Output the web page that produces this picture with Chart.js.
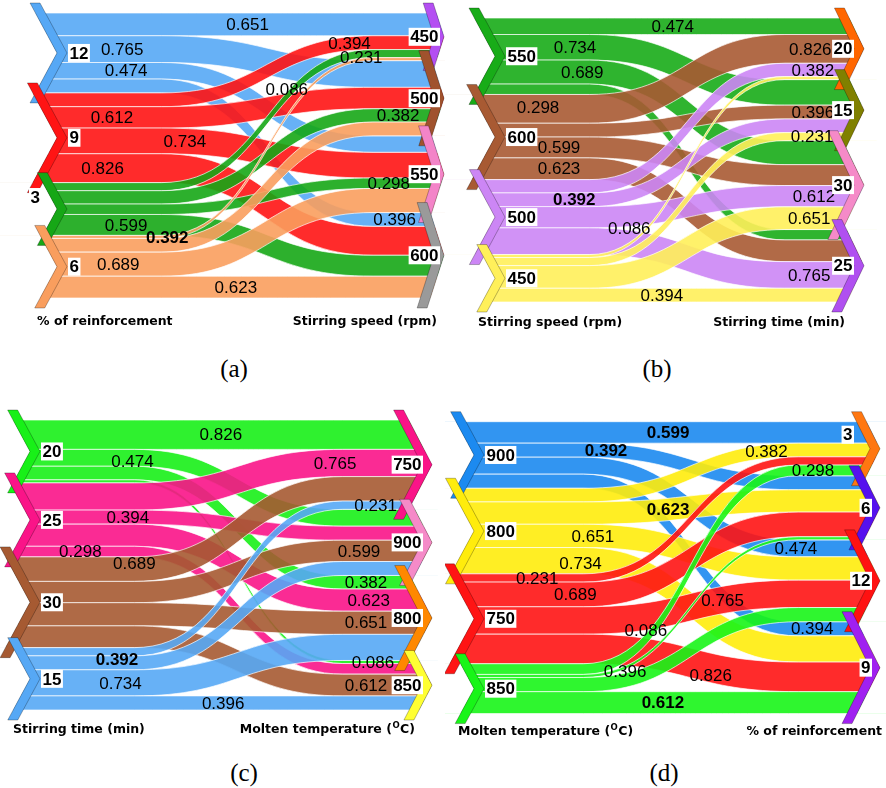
<!DOCTYPE html>
<html>
<head>
<meta charset="utf-8">
<script src="https://cdn.jsdelivr.net/npm/chart.js@4.4.1/dist/chart.umd.min.js"></script>
<style>
  body { margin: 0; background: #fff; }
  #wrap { position: relative; width: 886px; height: 788px; overflow: hidden; }
  canvas { position: absolute; }
  .cap {
    position: absolute;
    font-family: "Liberation Serif", "Times New Roman", serif;
    font-size: 25px;
    line-height: 30px;
    color: #000;
    transform: translateX(-50%);
  }
</style>
</head>
<body>
<div id="wrap">
  <canvas id="pa" width="445" height="340" style="left:0;top:0"></canvas>
  <canvas id="pb" width="441" height="340" style="left:445px;top:0"></canvas>
  <canvas id="pc" width="443" height="345" style="left:0;top:400px"></canvas>
  <canvas id="pd" width="441" height="345" style="left:445px;top:400px"></canvas>
  <div class="cap" style="left:234px;top:354px">(a)</div>
  <div class="cap" style="left:657px;top:354px">(b)</div>
  <div class="cap" style="left:244px;top:758px">(c)</div>
  <div class="cap" style="left:664px;top:758px">(d)</div>
</div>
<script>
// L16 runs: factor levels and response value of each run
const reinforcement = [12, 12, 12, 12, 9, 9, 9, 9, 3, 3, 3, 3, 6, 6, 6, 6];
const stirSpeed = [450, 500, 550, 600, 450, 500, 550, 600, 450, 500, 550, 600, 450, 500, 550, 600];
const stirTime = [30, 25, 20, 15, 25, 30, 15, 20, 15, 20, 25, 30, 20, 15, 30, 25];
const moltenTemp = [800, 750, 900, 850, 900, 850, 800, 750, 750, 800, 850, 900, 850, 900, 750, 800];
const response = [0.651, 0.765, 0.474, 0.396, 0.394, 0.612, 0.734, 0.826, 0.231, 0.382, 0.298, 0.599, 0.086, 0.392, 0.689, 0.623];

// node order, top to bottom, in each panel
const reinfOrderA = [12, 9, 3, 6];
const speedOrderA = [450, 500, 550, 600];
const speedOrderB = [550, 600, 500, 450];
const timeOrderB = [20, 15, 30, 25];
const timeOrderC = [20, 25, 30, 15];
const tempOrderC = [750, 900, 800, 850];
const tempOrderD = [900, 800, 750, 850];
const reinfOrderD = [3, 6, 12, 9];

const panels = [
  { id: "pa", from: reinforcement, to: stirSpeed, leftOrder: reinfOrderA, rightOrder: speedOrderA,
    leftTitle: "% of reinforcement", rightTitle: "Stirring speed (rpm)" },
  { id: "pb", from: stirSpeed, to: stirTime, leftOrder: speedOrderB, rightOrder: timeOrderB,
    leftTitle: "Stirring speed (rpm)", rightTitle: "Stirring time (min)" },
  { id: "pc", from: stirTime, to: moltenTemp, leftOrder: timeOrderC, rightOrder: tempOrderC,
    leftTitle: "Stirring time (min)", rightTitle: "Molten temperature (^OC)" },
  { id: "pd", from: moltenTemp, to: reinforcement, leftOrder: tempOrderD, rightOrder: reinfOrderD,
    leftTitle: "Molten temperature (^OC)", rightTitle: "% of reinforcement" },
];

// drawing style per panel (positions in canvas pixels)
const panelStyle = {
  pa: {
    pad: { left: 32, right: 21, top: 13, bottom: 42 },
    leftTip: 67, rightTip: 444, rightRatio: 0.32, rightGap: 4,
    leftColors: ["#56a8f5", "#ff1414", "#16a716", "#f99e5e"],
    rightColors: ["#b44ff2", "#a0522d", "#f384c8", "#9a9a9a"],
    titleY: 322, leftTitleX: 37, rightTitleX: 437,
    labelU: [0.55, 0.23, 0.24, 0.925, 0.81, 0.204, 0.39, 0.18, 0.84, 0.934, 0.91, 0.24, 0.65, 0.345, 0.22, 0.52],
    labelDy: { 8: 3, 12: -27, 13: -8 },
    bold: [13],
    shiftL: { 3: [-39, -12] }, shiftR: {},
  },
  pb: {
    pad: { left: 25, right: 54, top: 18, bottom: 38 },
    leftTip: 60, rightTip: 419, rightRatio: 0.48, rightGap: 10,
    leftColors: ["#18ac18", "#a85a33", "#cc86f5", "#fff05a"],
    rightColors: ["#ff6600", "#808000", "#f58ac8", "#b050f0"],
    titleY: 323, leftTitleX: 33, rightTitleX: 400,
    labelU: [0.937, 0.937, 0.56, 0.947, 0.53, 0.95, 0.29, 0.94, 0.945, 0.947, 0.188, 0.246, 0.44, 0.288, 0.31, 0.246],
    labelDy: { 10: 18, 12: -16 },
    bold: [13],
    shiftL: {}, shiftR: {},
  },
  pc: {
    pad: { left: 7, right: 50, top: 20, bottom: 35 },
    leftTip: 40, rightTip: 432, rightRatio: 0.52, rightGap: 9,
    leftColors: ["#18f018", "#fa1488", "#a65a32", "#56a8f5"],
    rightColors: ["#fa1488", "#f58ac8", "#ff8800", "#ffff33"],
    titleY: 330, leftTitleX: 13, rightTitleX: 415,
    labelU: [0.93, 0.85, 0.325, 0.56, 0.313, 0.93, 0.294, 0.554, 0.955, 0.93, 0.19, 0.912, 0.948, 0.285, 0.33, 0.937],
    labelDy: { 2: 3, 13: -4, 14: -6 },
    bold: [13],
    shiftL: {}, shiftR: {},
  },
  pd: {
    pad: { left: 7, right: 36, top: 21.7, bottom: 31.4 },
    leftTip: 39, rightTip: 435, rightRatio: 0.5, rightGap: 8,
    leftColors: ["#1c8af0", "#ffec0c", "#ff1414", "#18f518"],
    rightColors: ["#ff7711", "#5511ee", "#ff1111", "#a020f0"],
    titleY: 332, leftTitleX: 13, rightTitleX: 437,
    labelU: [0.354, 0.68, 0.864, 0.435, 0.905, 0.53, 0.323, 0.65, 0.214, 0.79, 0.907, 0.543, 0.487, 0.387, 0.31, 0.543],
    labelDy: { 3: -9, 6: 3, 7: 7, 12: -25 },
    bold: [5, 11, 13, 15],
    shiftL: {}, shiftR: { 3: [-18, -14] },
  },
};

const BEND_START = 0.33;
const BEND_END = 0.87;
const EXT = 10;
const TH = 10;
const LEFT_RATIO = 0.54;

function layoutPanel(p) {
  const idx = response.map((_, i) => i);
  const leftOff = {}, rightOff = {};
  const leftNodes = [], rightNodes = [], order = [];
  let acc = 0;
  p.leftOrder.forEach((lv) => {
    const start = acc;
    idx.filter((i) => p.from[i] === lv)
      .sort((a, b) => p.rightOrder.indexOf(p.to[a]) - p.rightOrder.indexOf(p.to[b]))
      .forEach((i) => { leftOff[i] = acc; acc += response[i]; order.push(i); });
    leftNodes.push({ level: lv, start, end: acc });
  });
  acc = 0;
  p.rightOrder.forEach((lv) => {
    const start = acc;
    idx.filter((i) => p.to[i] === lv)
      .sort((a, b) => p.leftOrder.indexOf(p.from[a]) - p.leftOrder.indexOf(p.from[b]))
      .forEach((i) => { rightOff[i] = acc; acc += response[i]; });
    rightNodes.push({ level: lv, start, end: acc });
  });
  return { leftOff, rightOff, leftNodes, rightNodes, order };
}

// y of the band centre line at pixel x
function bendY(x, bx0, bx1, c0, c1) {
  if (x <= bx0) return c0;
  if (x >= bx1) return c1;
  const loc = (x - bx0) / (bx1 - bx0);
  let lo = 0, hi = 1;
  for (let k = 0; k < 30; k++) {
    const s = (lo + hi) / 2;
    if (1.5 * s * (1 - s) + s * s * s < loc) lo = s; else hi = s;
  }
  const s = (lo + hi) / 2;
  return c0 + (c1 - c0) * (3 * s * s - 2 * s * s * s);
}

const TITLE_FONT = "bold 12.5px 'DejaVu Sans', Verdana, sans-serif";
const SUP_FONT = "bold 8.5px 'DejaVu Sans', Verdana, sans-serif";

function drawTitle(ctx, text, x, y, align) {
  ctx.font = TITLE_FONT;
  ctx.textBaseline = "middle";
  ctx.textAlign = "left";
  ctx.fillStyle = "#000";
  const parts = text.split("^");
  let w = ctx.measureText(parts[0]).width;
  let supW = 0, rest = "";
  if (parts.length > 1) {
    rest = parts[1].slice(1);
    ctx.font = SUP_FONT;
    supW = ctx.measureText(parts[1][0]).width + 1;
    ctx.font = TITLE_FONT;
    w += supW + ctx.measureText(rest).width;
  }
  let sx = align === "right" ? x - w : x;
  ctx.fillText(parts[0], sx, y);
  if (parts.length > 1) {
    sx += ctx.measureText(parts[0]).width;
    ctx.font = SUP_FONT;
    ctx.fillText(parts[1][0], sx + 0.5, y - 4);
    ctx.font = TITLE_FONT;
    ctx.fillText(rest, sx + supW, y);
  }
}

function nodeBox(ctx, text, x, yMid, anchorRight) {
  ctx.font = "bold 17px 'Liberation Sans', Arial, sans-serif";
  const w = ctx.measureText(text).width + 3;
  const h = 18;
  const bx = anchorRight ? x - w : x;
  ctx.fillStyle = "#fff";
  ctx.fillRect(bx, yMid - h / 2, w, h);
  ctx.fillStyle = "#000";
  ctx.textAlign = "center";
  ctx.textBaseline = "middle";
  ctx.fillText(text, bx + w / 2, yMid + 1);
}

function drawSankey(chart, p, st) {
  const ctx = chart.ctx;
  const xs = chart.scales.x, ys = chart.scales.y;
  const W = chart.width;
  const lay = layoutPanel(p);
  const X0 = xs.getPixelForValue(0), X1 = xs.getPixelForValue(1);
  const bx0 = xs.getPixelForValue(BEND_START), bx1 = xs.getPixelForValue(BEND_END);
  const bxm = (bx0 + bx1) / 2;

  ctx.save();
  // flows
  lay.order.forEach((i) => {
    const col = st.leftColors[p.leftOrder.indexOf(p.from[i])];
    const t0 = ys.getPixelForValue(lay.leftOff[i]);
    const b0 = ys.getPixelForValue(lay.leftOff[i] + response[i]);
    const t1 = ys.getPixelForValue(lay.rightOff[i]);
    const b1 = ys.getPixelForValue(lay.rightOff[i] + response[i]);
    ctx.beginPath();
    ctx.moveTo(X0 - 45, t0);
    ctx.lineTo(bx0, t0);
    ctx.bezierCurveTo(bxm, t0, bxm, t1, bx1, t1);
    ctx.lineTo(X1 + 45, t1);
    ctx.lineTo(X1 + 45, b1);
    ctx.lineTo(bx1, b1);
    ctx.bezierCurveTo(bxm, b1, bxm, b0, bx0, b0);
    ctx.lineTo(X0 - 45, b0);
    ctx.closePath();
    ctx.globalAlpha = 0.9;
    ctx.fillStyle = col;
    ctx.fill();
    ctx.globalAlpha = 0.75;
    ctx.strokeStyle = "#fff";
    ctx.lineWidth = 0.9;
    ctx.stroke();
  });
  ctx.globalAlpha = 1;

  const shape = (n, tip, ratio) => {
    const yT = ys.getPixelForValue(n.start) - EXT;
    const yB = ys.getPixelForValue(n.end) + EXT;
    const mid = (yT + yB) / 2;
    const d = ratio * (yB - yT) / 2;
    return { yT, yB, mid, d, ox: tip - TH - d };
  };
  const lShapes = lay.leftNodes.map((n) => shape(n, st.leftTip, LEFT_RATIO));
  const rShapes = lay.rightNodes.map((n) => shape(n, st.rightTip, st.rightRatio));

  // white areas outside the node arrows
  ctx.fillStyle = "#fff";
  lShapes.forEach((s) => {
    const e = s.ox + s.d * (EXT / (s.mid - s.yT));
    ctx.beginPath();
    ctx.moveTo(-1, s.yT + EXT);
    ctx.lineTo(e, s.yT + EXT);
    ctx.lineTo(s.ox + s.d, s.mid);
    ctx.lineTo(e, s.yB - EXT);
    ctx.lineTo(-1, s.yB - EXT);
    ctx.closePath();
    ctx.fill();
  });
  rShapes.forEach((s) => {
    const e = s.ox + TH + s.d * (EXT / (s.mid - s.yT));
    ctx.beginPath();
    ctx.moveTo(W + 1, s.yT + EXT);
    ctx.lineTo(e, s.yT + EXT);
    ctx.lineTo(st.rightTip, s.mid);
    ctx.lineTo(e, s.yB - EXT);
    ctx.lineTo(W + 1, s.yB - EXT);
    ctx.closePath();
    ctx.fill();
  });

  // node arrows
  function arrow(s, tip, col) {
    ctx.beginPath();
    ctx.moveTo(s.ox, s.yT);
    ctx.lineTo(s.ox + TH, s.yT);
    ctx.lineTo(tip, s.mid);
    ctx.lineTo(s.ox + TH, s.yB);
    ctx.lineTo(s.ox, s.yB);
    ctx.lineTo(s.ox + s.d, s.mid);
    ctx.closePath();
    ctx.fillStyle = col;
    ctx.fill();
    ctx.strokeStyle = "rgba(0,0,0,0.35)";
    ctx.lineWidth = 0.8;
    ctx.stroke();
  }
  lShapes.forEach((s, k) => arrow(s, st.leftTip, st.leftColors[k]));
  rShapes.forEach((s, k) => arrow(s, st.rightTip, st.rightColors[k]));

  // value labels on the flows
  ctx.fillStyle = "#000";
  ctx.textAlign = "center";
  ctx.textBaseline = "middle";
  lay.order.forEach((i) => {
    const c0 = ys.getPixelForValue(lay.leftOff[i] + response[i] / 2);
    const c1 = ys.getPixelForValue(lay.rightOff[i] + response[i] / 2);
    const x = xs.getPixelForValue(st.labelU[i]);
    const y = bendY(x, bx0, bx1, c0, c1) + (st.labelDy[i] || 0);
    const bold = st.bold.includes(i);
    ctx.font = (bold ? "bold " : "") + "17px 'Liberation Sans', Arial, sans-serif";
    ctx.fillText(response[i].toFixed(3), x, y + 1);
  });

  // node labels
  lay.leftNodes.forEach((n, k) => {
    const sh = st.shiftL[n.level] || [0, 0];
    nodeBox(ctx, String(n.level), st.leftTip + 1 + sh[0], lShapes[k].mid + sh[1], false);
  });
  lay.rightNodes.forEach((n, k) => {
    const sh = st.shiftR[n.level] || [0, 0];
    nodeBox(ctx, String(n.level), st.rightTip - st.rightGap + sh[0], rShapes[k].mid + sh[1], true);
  });

  drawTitle(ctx, p.leftTitle, st.leftTitleX, st.titleY, "left");
  drawTitle(ctx, p.rightTitle, st.rightTitleX, st.titleY, "right");
  ctx.restore();
}

const total = response.reduce((a, b) => a + b, 0);

panels.forEach((p) => {
  const st = panelStyle[p.id];
  new Chart(document.getElementById(p.id), {
    type: "scatter",
    data: { datasets: [{ data: [], pointRadius: 0 }] },
    options: {
      responsive: false,
      animation: false,
      devicePixelRatio: 1,
      layout: { padding: st.pad },
      plugins: { legend: { display: false }, tooltip: { enabled: false } },
      scales: {
        x: { type: "linear", min: 0, max: 1, display: false },
        y: { type: "linear", min: 0, max: total, reverse: true, display: false },
      },
    },
    plugins: [{
      id: "sankeyBands",
      afterDatasetsDraw(chart) { drawSankey(chart, p, st); },
    }],
  });
});
</script>
</body>
</html>
